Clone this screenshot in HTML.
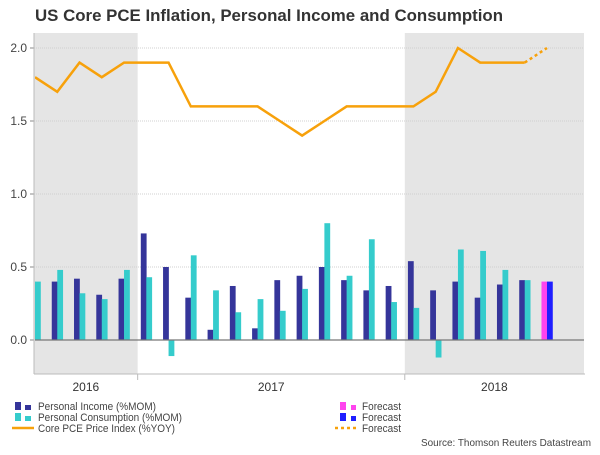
<!DOCTYPE html>
<html><head><meta charset="utf-8">
<style>
body{margin:0;width:600px;height:450px;background:#fff;font-family:"Liberation Sans",sans-serif;overflow:hidden}
</style></head>
<body>
<svg id="chart" width="600" height="450" xmlns="http://www.w3.org/2000/svg">
<text x="35" y="21" font-size="17" font-weight="bold" fill="#333" textLength="468" lengthAdjust="spacingAndGlyphs">US Core PCE Inflation, Personal Income and Consumption</text>
<g id="plot"></g>
<g id="legend">
<rect x="15" y="402" width="6" height="8" fill="#35359a"/><rect x="25" y="405" width="6" height="5" fill="#35359a"/>
<text x="38" y="410" font-size="11" fill="#444" textLength="118" lengthAdjust="spacingAndGlyphs">Personal Income (%MOM)</text>
<rect x="15" y="413" width="6" height="8" fill="#35cccc"/><rect x="25" y="416" width="6" height="5" fill="#35cccc"/>
<text x="38" y="421" font-size="11" fill="#444" textLength="144" lengthAdjust="spacingAndGlyphs">Personal Consumption (%MOM)</text>
<line x1="12" y1="428" x2="34" y2="428" stroke="#f7a10b" stroke-width="2.5"/>
<text x="38" y="432" font-size="11" fill="#444" textLength="137" lengthAdjust="spacingAndGlyphs">Core PCE Price Index (%YOY)</text>
<rect x="340" y="402" width="6" height="8" fill="#ff44ee"/><rect x="351" y="405" width="5" height="5" fill="#ff44ee"/>
<text x="362" y="410" font-size="11" fill="#444" textLength="39" lengthAdjust="spacingAndGlyphs">Forecast</text>
<rect x="340" y="413" width="6" height="8" fill="#1f1fff"/><rect x="351" y="416" width="5" height="5" fill="#1f1fff"/>
<text x="362" y="421" font-size="11" fill="#444" textLength="39" lengthAdjust="spacingAndGlyphs">Forecast</text>
<line x1="335" y1="428" x2="358" y2="428" stroke="#f7a10b" stroke-width="2.5" stroke-dasharray="3,3"/>
<text x="362" y="432" font-size="11" fill="#444" textLength="39" lengthAdjust="spacingAndGlyphs">Forecast</text>
</g>
<text x="421" y="446" font-size="10.5" fill="#444" textLength="170" lengthAdjust="spacingAndGlyphs">Source: Thomson Reuters Datastream</text>
</svg>
<script>
const income = [0.40,0.40,0.42,0.31,0.42,0.73,0.50,0.29,0.07,0.37,0.08,0.41,0.44,0.50,0.41,0.34,0.37,0.54,0.34,0.40,0.29,0.38,0.41];
const consumption = [0.40,0.48,0.32,0.28,0.48,0.43,-0.11,0.58,0.34,0.19,0.28,0.20,0.35,0.80,0.44,0.69,0.26,0.22,-0.12,0.62,0.61,0.48,0.41];
const coreIndex = [1.8,1.7,1.9,1.8,1.9,1.9,1.9,1.6,1.6,1.6,1.6,1.5,1.4,1.5,1.6,1.6,1.6,1.6,1.7,2.0,1.9,1.9,1.9];
const forecastIncome = [0.40];
const forecastConsumption = [0.40];
const forecastCore = [2.0];
const yTicks = ["0.0","0.5","1.0","1.5","2.0"];
const years = ["2016","2017","2018"];
const yearMonths = [5,12,7];

const NS="http://www.w3.org/2000/svg";
const g=document.getElementById('plot');
const L=34,R=584,T=33,B=374;
const x0=35,step=22.26;
const xs=i=>x0+step*i;
const ys=v=>340-v*146;
function el(t,a,p){const e=document.createElementNS(NS,t);for(const k in a)e.setAttribute(k,a[k]);(p||g).appendChild(e);return e;}
let start=0;const bounds=[L];
yearMonths.forEach((n,k)=>{start+=n;bounds.push(k<2?xs(start)-step/2+2.5:R);});
years.forEach((y,k)=>{
  if(k!==1){const r=el('rect',{x:bounds[k],y:T,width:bounds[k+1]-bounds[k],height:B-T,fill:'#e5e5e5'});
  
  }
  const t=el('text',{x:(bounds[k]+bounds[k+1])/2,y:391,'font-size':12,fill:'#333','text-anchor':'middle'});t.textContent=y;
  
  
});
[bounds[1],bounds[2]].forEach(b=>el('line',{x1:b,y1:B,x2:b,y2:B+6,stroke:'#bbb'}));
yTicks.forEach(s=>{const v=parseFloat(s),y=ys(v);
  if(v!==0)el('line',{x1:L,y1:y,x2:R,y2:y,stroke:'#d0d0d0','stroke-dasharray':'1,1'});
  el('line',{x1:30,y1:y,x2:L,y2:y,stroke:'#888'});
  const t=el('text',{x:27,y:y+4,'font-size':12,fill:'#444','text-anchor':'end'});t.textContent=s;
  
  
});
el('line',{x1:L,y1:T,x2:L,y2:B,stroke:'#bbb'});
el('line',{x1:L,y1:B,x2:R+1,y2:B,stroke:'#bbb'});
const defs=el('defs',{});const cp=el('clipPath',{id:'cp'},defs);el('rect',{x:L+1,y:T-10,width:R-L,height:B-T+10},cp);
const bg=el('g',{'clip-path':'url(#cp)'});
function bar(i,v,left,col,name){const x=xs(i)+(left?-5.5:0);const y=Math.min(ys(v),ys(0));
  const r=el('rect',{x:x,y:y,width:5.8,height:Math.abs(ys(v)-ys(0)),fill:col},bg);
  
  }
income.forEach((v,i)=>bar(i,v,true,'#35359a','income-bar-'+i));
consumption.forEach((v,i)=>bar(i,v,false,'#35cccc','consumption-bar-'+i));
const n=income.length;
forecastIncome.forEach((v,k)=>bar(n+k,v,true,'#ff44ee','forecast-income-bar'));
forecastConsumption.forEach((v,k)=>bar(n+k,v,false,'#1f1fff','forecast-consumption-bar'));
el('line',{x1:L,y1:ys(0),x2:R,y2:ys(0),stroke:'#777','stroke-width':1.2},bg);
const pl=el('polyline',{points:coreIndex.map((v,i)=>xs(i)+','+ys(v)).join(' '),fill:'none',stroke:'#f7a10b','stroke-width':2.5},bg);


const fpts=[coreIndex.length-1].map(i=>xs(i)+','+ys(coreIndex[i])).concat(forecastCore.map((v,k)=>xs(n+k)+','+ys(v)));
const fl=el('polyline',{points:fpts.join(' '),fill:'none',stroke:'#f7a10b','stroke-width':2.5,'stroke-dasharray':'3,3'},bg);


</script>
</body></html>
